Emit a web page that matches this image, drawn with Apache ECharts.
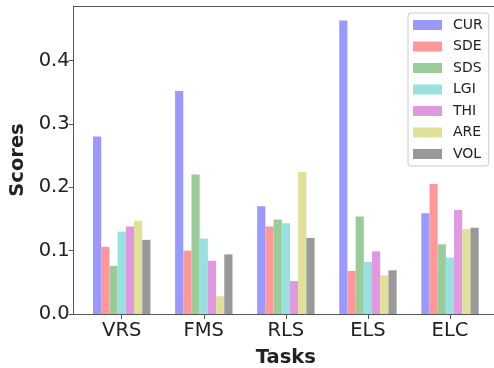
<!DOCTYPE html>
<html>
<head>
<meta charset="utf-8">
<script src="https://cdn.jsdelivr.net/npm/echarts@6/dist/echarts.min.js"></script>
<style>
html,body{margin:0;padding:0;background:#fff;}
#chart{width:494px;height:368px;}
</style>
</head>
<body>
<div id="chart"></div>
<script>
const categories = ['VRS', 'FMS', 'RLS', 'ELS', 'ELC'];
const seriesNames = ['CUR', 'SDE', 'SDS', 'LGI', 'THI', 'ARE', 'VOL'];
const seriesColors = ['#9999ff', '#ff9999', '#99cc99', '#99e0e0', '#e099e0', '#e0e099', '#999999'];
const CUR = [0.280, 0.352, 0.170, 0.463, 0.159];
const SDE = [0.106, 0.100, 0.138, 0.068, 0.205];
const SDS = [0.076, 0.220, 0.149, 0.154, 0.110];
const LGI = [0.130, 0.119, 0.143, 0.082, 0.089];
const THI = [0.138, 0.084, 0.052, 0.099, 0.164];
const ARE = [0.147, 0.028, 0.224, 0.061, 0.134];
const VOL = [0.117, 0.094, 0.120, 0.069, 0.136];
const yTicks = [0, 0.1, 0.2, 0.3, 0.4];
const seriesValues = [CUR, SDE, SDS, LGI, THI, ARE, VOL];

const FONT = 'DejaVu Sans';
const AXIS_COLOR = '#555';
const TEXT_COLOR = '#222';

const chart = echarts.init(document.getElementById('chart'), null, {renderer: 'canvas'});
const xIdx = categories.map((c, i) => i);

chart.setOption({
  animation: false,
  backgroundColor: '#fff',
  grid: {
    left: 73.7, right: -4, top: 6, bottom: 54,
    outerBoundsMode: 'none',
    containLabel: false,
    show: false
  },
  legend: {
    orient: 'vertical',
    left: 408, top: 13,
    data: seriesNames,
    itemWidth: 29, itemHeight: 10, itemGap: 7.5,
    padding: [5, 6, 5, 5],
    backgroundColor: 'rgba(255,255,255,0.8)',
    borderColor: '#ccc', borderWidth: 1, borderRadius: 3,
    icon: 'rect',
    textStyle: {fontFamily: FONT, fontSize: 14, color: TEXT_COLOR, lineHeight: 14, padding: [0, 0, 0, 6]}
  },
  xAxis: [{
    type: 'value',
    min: -0.585, max: 4.585,
    name: 'Tasks',
    nameLocation: 'middle',
    nameGap: 34,
    nameTextStyle: {fontFamily: FONT, fontSize: 19.5, fontWeight: 'bold', color: TEXT_COLOR},
    axisLine: {show: true, onZero: false, lineStyle: {color: AXIS_COLOR, width: 1}},
    axisTick: {show: true, length: 5, customValues: xIdx, lineStyle: {color: AXIS_COLOR}},
    axisLabel: {
      customValues: xIdx, margin: 7,
      fontFamily: FONT, fontSize: 19.5, color: TEXT_COLOR,
      formatter: v => categories[Math.round(v)]
    },
    splitLine: {show: false}
  }, {
    type: 'value',
    position: 'top',
    min: -0.585, max: 4.585,
    axisLine: {show: true, onZero: false, lineStyle: {color: AXIS_COLOR, width: 1}},
    axisTick: {show: false},
    axisLabel: {show: false},
    splitLine: {show: false}
  }],
  yAxis: {
    type: 'value',
    min: 0, max: 0.486,
    name: 'Scores',
    nameLocation: 'middle',
    nameGap: 44,
    nameTextStyle: {fontFamily: FONT, fontSize: 19.5, fontWeight: 'bold', color: TEXT_COLOR},
    axisLine: {show: true, onZero: false, lineStyle: {color: AXIS_COLOR, width: 1}},
    axisTick: {show: true, length: 5, customValues: yTicks, lineStyle: {color: AXIS_COLOR}},
    axisLabel: {
      customValues: yTicks, margin: 4,
      fontFamily: FONT, fontSize: 19.5, color: TEXT_COLOR,
      formatter: v => v.toFixed(1)
    },
    splitLine: {show: false}
  },
  series: seriesNames.map((name, s) => ({
    name: name,
    type: 'bar',
    xAxisIndex: 0,
    barWidth: 8.2,
    barGap: '0%',
    itemStyle: {color: seriesColors[s]},
    data: seriesValues[s].map((v, i) => [xIdx[i], v])
  }))
});
</script>
</body>
</html>
